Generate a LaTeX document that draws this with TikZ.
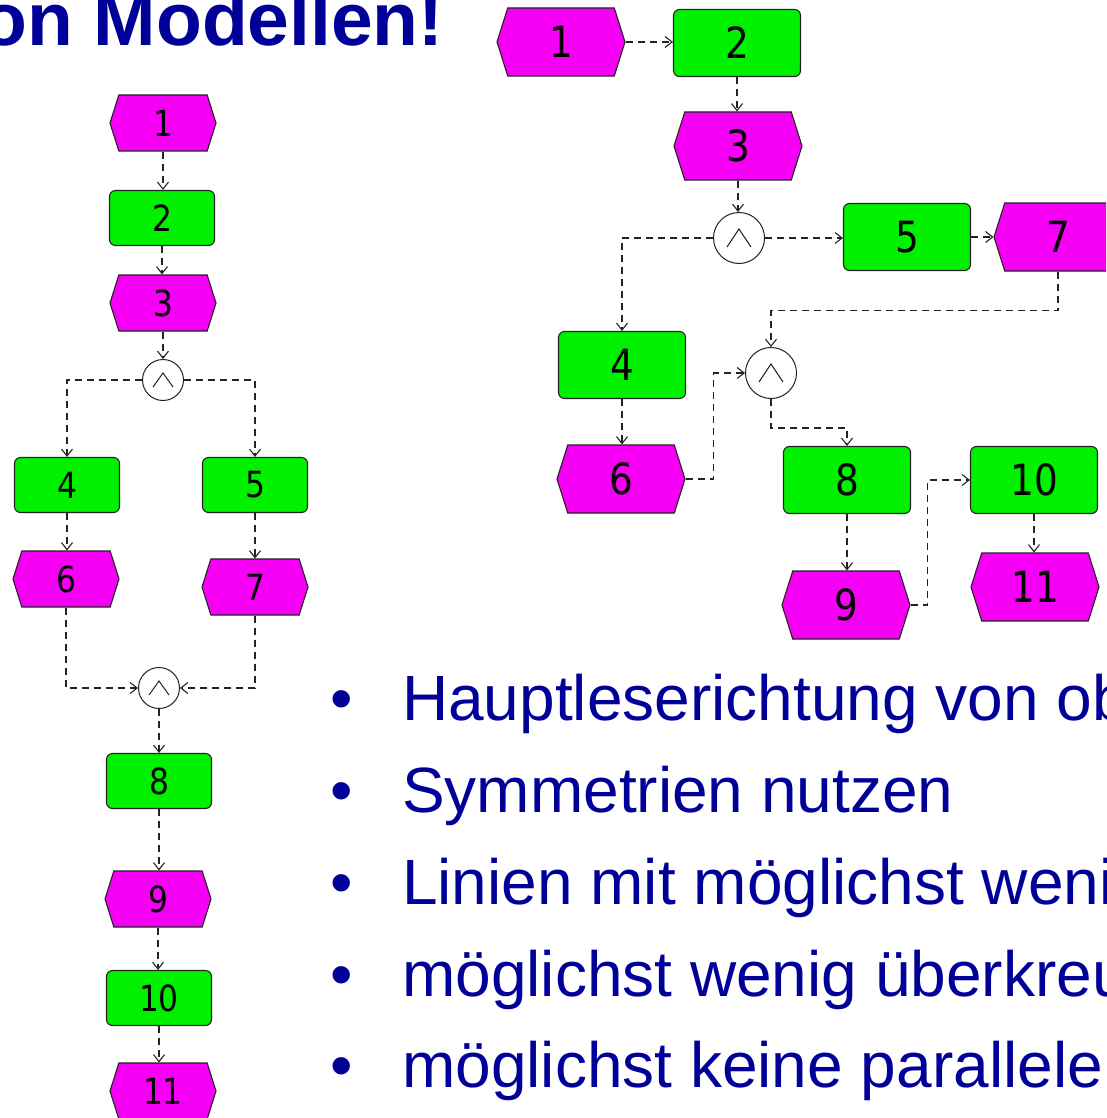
\documentclass[tikz,border=0pt]{standalone}
\usepackage{fontspec}
\setmainfont{Liberation Sans}
\newfontfamily\lblfont[FakeStretch=0.87]{DejaVu Sans}
\usetikzlibrary{shapes.symbols,arrows.meta,calc}
\definecolor{evcol}{RGB}{245,0,245}
\definecolor{fncol}{RGB}{0,240,0}
\definecolor{txtblue}{RGB}{0,0,153}
\definecolor{linecol}{RGB}{35,35,35}
\tikzset{
  evbase/.style={signal, signal to=east and west, signal pointer angle=145, draw=linecol, line width=1.1pt, fill=evcol, inner sep=0pt, text=black},
  fnbase/.style={rectangle, rounded corners=6pt, draw=linecol, line width=1.1pt, fill=fncol, inner sep=0pt, text=black},
  evsmall/.style={evbase, minimum width=106pt, minimum height=56pt, font=\lblfont\fontsize{36}{40}\selectfont},
  fnsmall/.style={fnbase, minimum width=105pt, minimum height=55pt, font=\lblfont\fontsize{36}{40}\selectfont},
  evbig/.style={evbase, minimum width=128pt, minimum height=68pt, font=\lblfont\fontsize{43}{48}\selectfont},
  fnbig/.style={fnbase, minimum width=127pt, minimum height=67pt, font=\lblfont\fontsize{43}{48}\selectfont},
  andsmall/.style={circle, draw=linecol, line width=1pt, fill=white, minimum size=41pt, inner sep=0pt,
    path picture={\draw[line width=1pt] ([shift={(-10,7)}]path picture bounding box.center) -- ([shift={(0,-7)}]path picture bounding box.center) -- ([shift={(10,7)}]path picture bounding box.center);}},
  andbig/.style={circle, draw=linecol, line width=1pt, fill=white, minimum size=51pt, inner sep=0pt,
    path picture={\draw[line width=1pt] ([shift={(-12,9)}]path picture bounding box.center) -- ([shift={(0,-9)}]path picture bounding box.center) -- ([shift={(12,9)}]path picture bounding box.center);}},
  conn/.style={draw=linecol, line width=1.1pt, dash pattern=on 7pt off 5pt, -{Straight Barb[length=7pt,width=11pt]}},
  bullettext/.style={anchor=base west, inner sep=0pt, text=txtblue, font=\fontsize{64}{70}\selectfont},
  bulletdot/.style={anchor=base, inner sep=0pt, text=txtblue, font=\fontsize{64}{70}\selectfont},
  titletext/.style={anchor=base east, inner sep=0pt, text=txtblue, font=\bfseries\fontsize{75}{80}\selectfont}
}
\begin{document}
\begin{tikzpicture}[x=1pt,y=-1pt]
\useasboundingbox (0,0) rectangle (1106,1118);
\clip (0,0) rectangle (1106,1118);
\fill[white] (0,0) rectangle (1106,1118);

% title
\node[titletext] (title) at (444,46) {on Modellen!};

% left diagram
\node[evsmall] (l1) at (163,123) {1};
\node[fnsmall] (l2) at (162,218) {2};
\node[evsmall] (l3) at (163,303) {3};
\node[andsmall] (la1) at (163,380) {};
\node[fnsmall] (l4) at (67,485) {4};
\node[fnsmall] (l5) at (255,485) {5};
\node[evsmall] (l6) at (66,579) {6};
\node[evsmall] (l7) at (255,587) {7};
\node[andsmall] (la2) at (159,688) {};
\node[fnsmall] (l8) at (159,781) {8};
\node[evsmall] (l9) at (158,899) {9};
\node[fnsmall] (l10) at (159,998) {10};
\node[evsmall] (l11) at (163,1091) {11};

\draw[conn] (l1.south) -- (l1.south |- l2.north);
\draw[conn] (l2.south) -- (l2.south |- l3.north);
\draw[conn] (l3.south) -- (l3.south |- la1.north);
\draw[conn] (la1.west) -| (l4.north);
\draw[conn] (la1.east) -| (l5.north);
\draw[conn] (l4.south) -- (l4.south |- l6.north);
\draw[conn] (l5.south) -- (l5.south |- l7.north);
\draw[conn] (l6.south) |- (la2.west);
\draw[conn] (l7.south) |- (la2.east);
\draw[conn] (la2.south) -- (la2.south |- l8.north);
\draw[conn] (l8.south) -- (l8.south |- l9.north);
\draw[conn] (l9.south) -- (l9.south |- l10.north);
\draw[conn] (l10.south) -- (l10.south |- l11.north);

% right diagram
\node[evbig] (r1) at (561,42) {1};
\node[fnbig] (r2) at (737,43) {2};
\node[evbig] (r3) at (738,146) {3};
\node[andbig] (ra1) at (739,238) {};
\node[fnbig] (r5) at (907,237) {5};
\node[evbig] (r7) at (1058,237) {7};
\node[fnbig] (r4) at (622,365) {4};
\node[andbig] (ra2) at (771,373) {};
\node[evbig] (r6) at (621,479) {6};
\node[fnbig] (r8) at (847,480) {8};
\node[evbig] (r9) at (846,605) {9};
\node[fnbig] (r10) at (1034,480) {10};
\node[evbig] (r11) at (1035,587) {11};

\draw[conn] (r1.east) -- (r1.east -| r2.west);
\draw[conn] (r2.south) -- (r2.south |- r3.north);
\draw[conn] (r3.south) -- (r3.south |- ra1.north);
\draw[conn] (ra1.west) -| (r4.north);
\draw[conn] (ra1.east) -- (ra1.east -| r5.west);
\draw[conn] (r5.east) -- (r5.east -| r7.west);
\draw[conn] (r7.south) -- ++(0,39) -| (ra2.north);
\draw[conn] (r4.south) -- (r4.south |- r6.north);
\draw[conn] (r6.east) -- ++(28,0) |- (ra2.west);
\draw[conn] (ra2.south) -- ++(0,29) -| (r8.north);
\draw[conn] (r8.south) -- (r8.south |- r9.north);
\draw[conn] (r9.east) -- ++(17,0) |- (r10.west);
\draw[conn] (r10.south) -- (r10.south |- r11.north);

% bullet list
\node[bulletdot] (b1) at (342,720) {•};
\node[bullettext] (t1) at (402,720) {Hauptleserichtung von ob};
\node[bulletdot] (b2) at (342,812) {•};
\node[bullettext] (t2) at (402,812) {Symmetrien nutzen};
\node[bulletdot] (b3) at (342,904) {•};
\node[bullettext] (t3) at (402,904) {Linien mit möglichst weni};
\node[bulletdot] (b4) at (342,996) {•};
\node[bullettext] (t4) at (402,996) {möglichst wenig überkreu};
\node[bulletdot] (b5) at (342,1087) {•};
\node[bullettext] (t5) at (402,1087) {möglichst keine parallele};
\end{tikzpicture}
\end{document}
